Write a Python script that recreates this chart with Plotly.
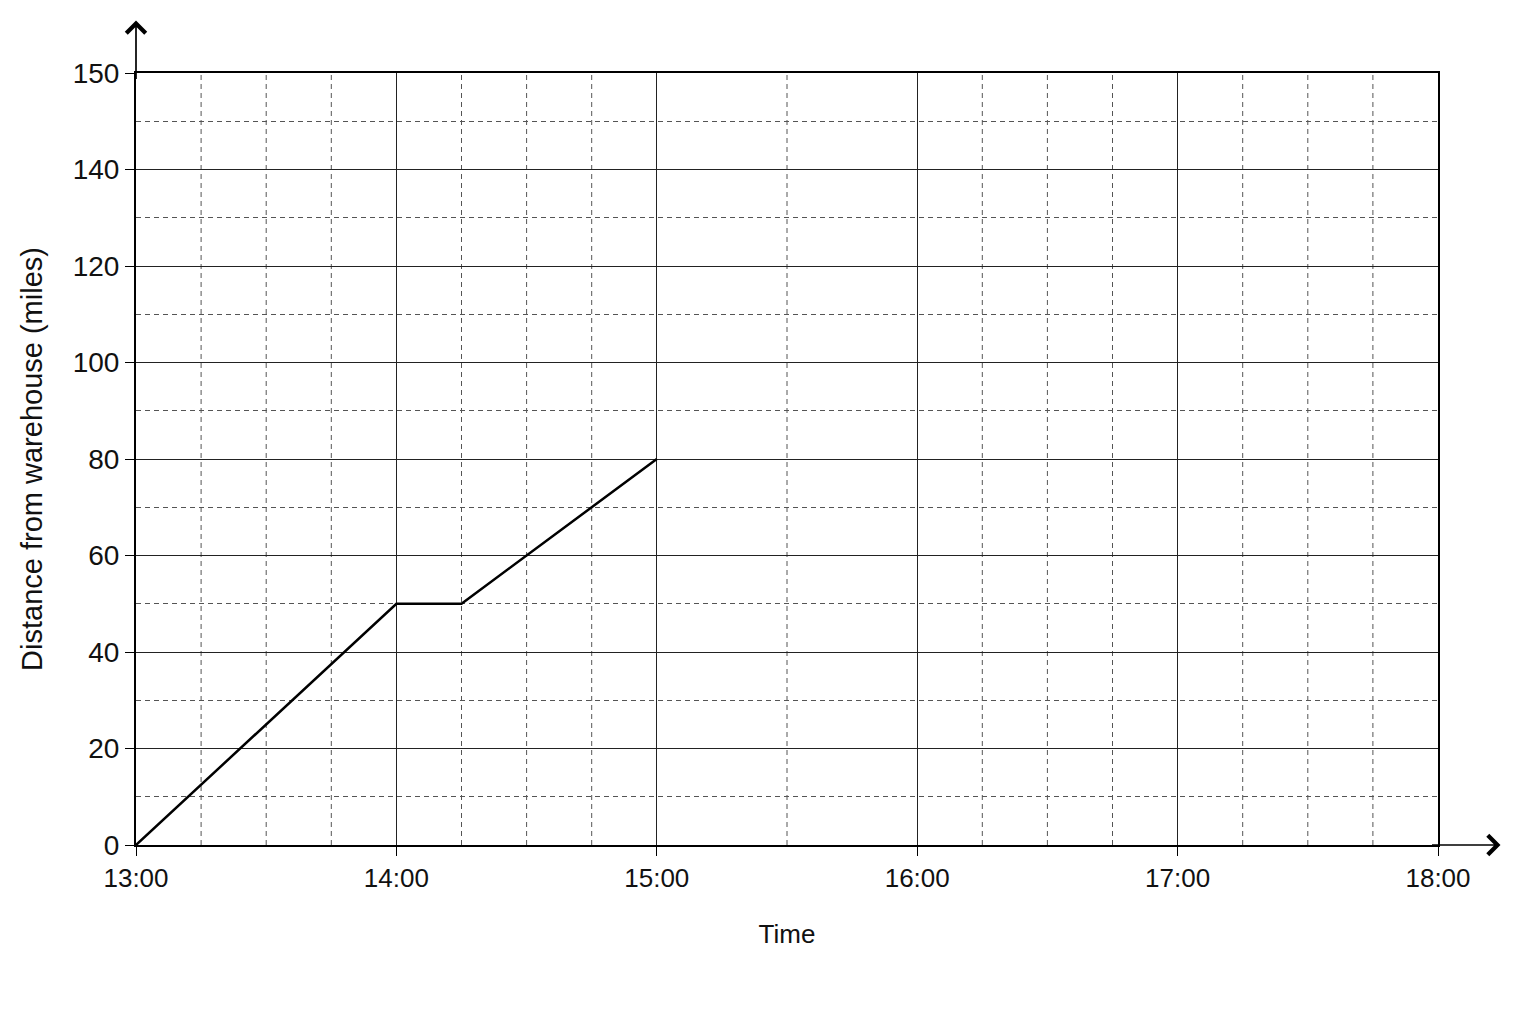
import pandas as pd
import plotly.graph_objects as go

# journey data
times = ["13:00", "14:00", "14:15", "15:00"]
distance = [0, 50, 50, 80]

# axis ticks
x_ticks = ["13:00", "14:00", "15:00", "16:00", "17:00", "18:00"]
y_tickvals = [0, 20, 40, 60, 80, 100, 120, 140, 160]
y_ticktext = ["0", "20", "40", "60", "80", "100", "120", "140", "150"]

# dashed quarter-hour grid lines as drawn on the original
minor_times = ["13:15", "13:30", "13:45", "14:15", "14:30", "14:45", "15:30",
               "16:15", "16:30", "16:45", "17:15", "17:30", "17:45"]

day = "2024-01-01 "
to_dt = lambda lst: pd.to_datetime([day + t for t in lst])

fig = go.Figure()
fig.add_trace(go.Scatter(
    x=to_dt(times), y=distance, mode="lines",
    line=dict(color="black", width=2.5), showlegend=False,
))

for t in to_dt(minor_times):
    fig.add_shape(type="line", x0=t, x1=t, y0=0, y1=1, xref="x", yref="paper",
                  line=dict(color="#555", width=1, dash="5px,4px"), layer="below")

# arrow heads at the ends of the axes
fig.add_annotation(x=0, y=1.068, xref="paper", yref="paper", ax=0, ay=60,
                   text="", showarrow=True, arrowhead=4, arrowsize=2.2,
                   arrowwidth=1.7, arrowcolor="black")
fig.add_annotation(x=1.048, y=0, xref="paper", yref="paper", ax=-70, ay=0,
                   text="", showarrow=True, arrowhead=4, arrowsize=2.2,
                   arrowwidth=1.7, arrowcolor="black")

font = "Liberation Sans, Arial, sans-serif"
fig.update_layout(
    width=1536, height=1024,
    margin=dict(l=128, r=106, t=65, b=187, autoexpand=False),
    plot_bgcolor="white", paper_bgcolor="white",
    font=dict(family=font, color="#111"),
    xaxis=dict(
        range=[to_dt(["13:00"])[0], to_dt(["18:00"])[0]],
        tickvals=to_dt(x_ticks), ticktext=x_ticks,
        tickfont=dict(size=26), ticks="outside", ticklen=9, tickcolor="black",
        showgrid=True, gridcolor="#222", gridwidth=1.2,
        showline=True, linecolor="black", linewidth=2, mirror=True,
        zeroline=False,
        title=dict(text="Time", font=dict(size=26), standoff=33),
    ),
    yaxis=dict(
        range=[0, 160],
        tickvals=y_tickvals, ticktext=y_ticktext,
        tickfont=dict(size=28), ticks="outside", ticklen=9, tickcolor="black",
        showgrid=True, gridcolor="#222", gridwidth=1.2,
        minor=dict(dtick=10, showgrid=True, gridcolor="#555", gridwidth=1,
                   griddash="5px,4px"),
        showline=True, linecolor="black", linewidth=2, mirror=True,
        zeroline=False,
        title=dict(text="Distance from warehouse (miles)", font=dict(size=29),
                   standoff=22),
    ),
)

fig.write_html("out.html")
